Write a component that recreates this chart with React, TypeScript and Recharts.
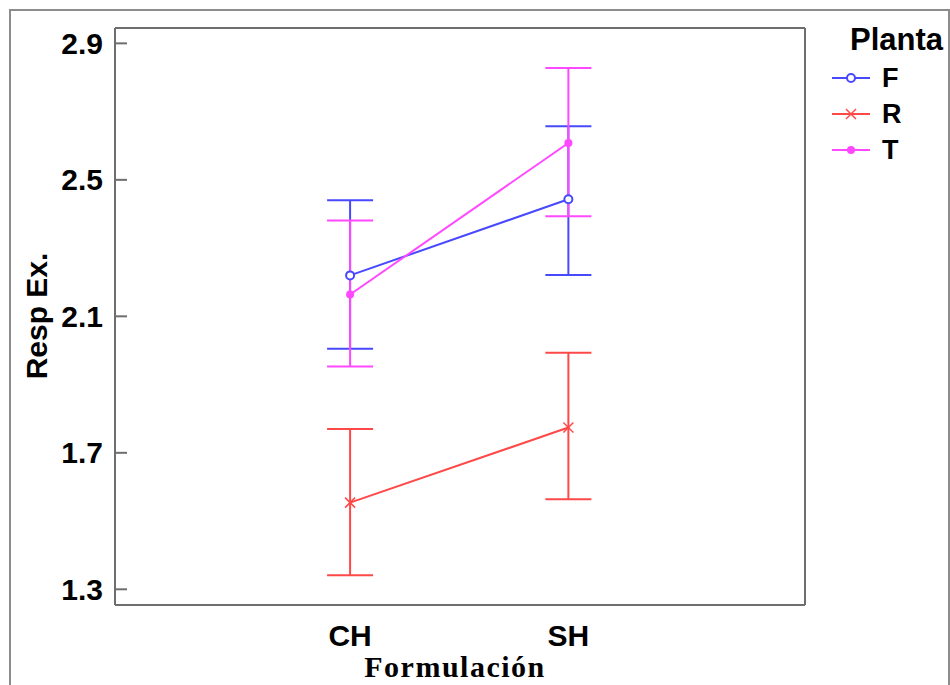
import { ComposedChart, Line, XAxis, YAxis, ErrorBar } from "recharts";

// Formulación on the x axis, one line per Planta
const formulaciones = ["CH", "SH"];
const posiciones = [1, 2];
const plantas = ["F", "R", "T"];
const colores = ["#4848ff", "#ff4848", "#ff48ff"];

const mediaF = [2.22, 2.443];
const bajoF = [2.005, 2.221];
const altoF = [2.44, 2.657];

const mediaR = [1.554, 1.774];
const bajoR = [1.341, 1.564];
const altoR = [1.77, 1.993];

const mediaT = [2.164, 2.608];
const bajoT = [1.953, 2.393];
const altoT = [2.381, 2.828];

const yTicks = [1.3, 1.7, 2.1, 2.5, 2.9];

const SANS = "'Liberation Sans', Arial, sans-serif";
const SERIF = "'Liberation Serif', 'Times New Roman', serif";
const FRAME = "#6e6e6e";

function serie(media: number[], bajo: number[], alto: number[]) {
  return posiciones.map((x, i) => ({
    x,
    y: media[i],
    err: [media[i] - bajo[i], alto[i] - media[i]],
  }));
}

const series = [
  serie(mediaF, bajoF, altoF),
  serie(mediaR, bajoR, altoR),
  serie(mediaT, bajoT, altoT),
];

type DotProps = { cx?: number; cy?: number; index?: number };

function Marker({ kind, color, cx, cy }: { kind: number; color: string; cx: number; cy: number }) {
  if (kind === 0) {
    return <circle cx={cx} cy={cy} r={4} fill="#fff" stroke={color} strokeWidth={2} />;
  }
  if (kind === 1) {
    return (
      <g stroke={color} strokeWidth={1.5}>
        <line x1={cx - 5} y1={cy - 5} x2={cx + 5} y2={cy + 5} />
        <line x1={cx - 5} y1={cy + 5} x2={cx + 5} y2={cy - 5} />
      </g>
    );
  }
  return <circle cx={cx} cy={cy} r={4} fill={color} stroke="none" />;
}

const dotFor = (kind: number) => (p: DotProps) =>
  <Marker key={`d${kind}-${p.index}`} kind={kind} color={colores[kind]} cx={p.cx ?? 0} cy={p.cy ?? 0} />;

function Leyenda() {
  return (
    <div style={{ position: "absolute", left: 826, top: 20, width: 124, fontFamily: SANS, fontWeight: "bold" }}>
      <div style={{ fontSize: 31, lineHeight: "40px", marginLeft: 24 }}>Planta</div>
      {plantas.map((p, i) => (
        <div key={p} style={{ display: "flex", alignItems: "center", height: 36 }}>
          <svg width={56} height={20}>
            <line x1={6} y1={10} x2={44} y2={10} stroke={colores[i]} strokeWidth={2} />
            <Marker kind={i} color={colores[i]} cx={25} cy={10} />
          </svg>
          <span style={{ fontSize: 27 }}>{p}</span>
        </div>
      ))}
    </div>
  );
}

export default function App() {
  return (
    <div style={{ position: "absolute", left: 0, top: 0, width: 950, height: 685, overflow: "hidden", background: "#fff" }}>
      <div
        style={{
          position: "absolute",
          left: 9,
          top: 9,
          width: 937,
          height: 680,
          border: "2px solid #8c8c8c",
          borderBottom: "none",
          pointerEvents: "none",
        }}
      />
      <ComposedChart
        width={950}
        height={685}
        margin={{ top: 18, right: 125, bottom: 40, left: 35 }}
      >
        <XAxis
          xAxisId="top"
          orientation="top"
          type="number"
          dataKey="x"
          domain={[-0.077, 3.084]}
          height={10}
          tick={false}
          tickLine={false}
          axisLine={{ stroke: FRAME, strokeWidth: 2 }}
        />
        <XAxis
          type="number"
          dataKey="x"
          domain={[-0.077, 3.084]}
          ticks={posiciones}
          tickFormatter={(v: number) => formulaciones[posiciones.indexOf(v)] ?? ""}
          height={40}
          tickLine={false}
          tickSize={0}
          tickMargin={20}
          axisLine={{ stroke: FRAME, strokeWidth: 2 }}
          tick={{ fill: "#000", fontSize: 30, fontWeight: "bold", fontFamily: SANS }}
          label={{
            content: (props: any) => {
              const vb = props.viewBox || { x: 0, width: 0, y: 0 };
              return (
                <text
                  x={vb.x + vb.width / 2 - 5}
                  y={677}
                  textAnchor="middle"
                  fontFamily={SERIF}
                  fontWeight="bold"
                  fontSize={30}
                  letterSpacing={1.5}
                  fill="#000"
                >
                  Formulación
                </text>
              );
            },
          }}
        />
        <YAxis
          type="number"
          domain={[1.254, 2.945]}
          ticks={yTicks}
          width={80}
          tickSize={-12}
          tickMargin={24}
          tickFormatter={(v: number) => v.toFixed(1)}
          tickLine={{ stroke: FRAME, strokeWidth: 2 }}
          axisLine={{ stroke: FRAME, strokeWidth: 2 }}
          tick={{ fill: "#000", fontSize: 30, fontWeight: "bold", fontFamily: SANS }}
          allowDataOverflow
          label={{
            content: () => (
              <text
                x={36}
                y={316}
                transform="rotate(-90 36 316)"
                textAnchor="middle"
                dominantBaseline="central"
                fontFamily={SANS}
                fontWeight="bold"
                fontSize={30}
                fill="#000"
              >
                Resp Ex.
              </text>
            ),
          }}
        />
        <YAxis
          yAxisId="r"
          orientation="right"
          type="number"
          domain={[1.254, 2.945]}
          ticks={yTicks}
          width={20}
          tick={false}
          tickSize={-12}
          tickLine={{ stroke: FRAME, strokeWidth: 2 }}
          axisLine={{ stroke: FRAME, strokeWidth: 2 }}
          allowDataOverflow
        />
        {series.map((d, i) => (
          <Line
            key={plantas[i]}
            data={d}
            dataKey="y"
            type="linear"
            stroke={colores[i]}
            strokeWidth={2}
            dot={dotFor(i)}
            activeDot={false}
            isAnimationActive={false}
          >
            <ErrorBar dataKey="err" direction="y" width={23} stroke={colores[i]} strokeWidth={2} isAnimationActive={false} />
          </Line>
        ))}
      </ComposedChart>
      <Leyenda />
    </div>
  );
}
